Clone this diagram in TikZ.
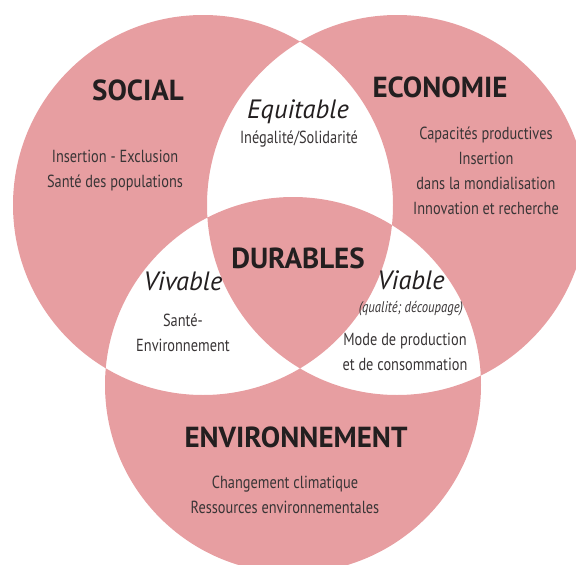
\documentclass[tikz,border=0pt]{standalone}
\usepackage{fontspec}
\setmainfont{PT Sans}
\newfontfamily\narrowfont[FakeStretch=0.82]{PT Sans}
\usetikzlibrary{positioning}

\definecolor{venn}{RGB}{231,158,161}
\definecolor{ink}{RGB}{35,31,32}

\tikzset{
	titre/.style={font=\fontsize{29}{32}\selectfont\bfseries, text=ink},
	qualif/.style={font=\fontsize{26.5}{28}\selectfont\itshape, text=ink},
	detail/.style={font=\narrowfont\fontsize{17.5}{25}\selectfont, text=ink!90, align=center},
}

\begin{document}
\begin{tikzpicture}[x=1pt, y=-1pt]
		\clip (0,0) rectangle (576,565);
		\useasboundingbox (0,0) rectangle (576,565);

		% Circles
		\coordinate (soc) at (203,205);
		\coordinate (eco) at (397,205);
		\coordinate (env) at (293,385);
		\fill[venn, even odd rule]
			(soc) circle[radius=190]
			(eco) circle[radius=190]
			(env) circle[radius=188];

		\begin{scope}[every node/.style={inner sep=0pt}]
			% Social
			\node[titre]  (social)     at (138,90)  {SOCIAL};
			\node[detail] (social_txt) at (115,171) {Insertion - Exclusion\\Santé des populations};

			% Economie
			\node[titre]  (economie)     at (440,87)  {ECONOMIE};
			\node[detail] (economie_txt) at (486,171) {Capacités productives\\Insertion\\dans la mondialisation\\Innovation et recherche};

			% Environnement
			\node[titre]  (environnement)     at (296,437)   {ENVIRONNEMENT};
			\node[detail] (environnement_txt) at (285,494.5) {Changement climatique\\Ressources environnementales};

			% Intersections
			\node[qualif] (equitable)     at (298,112) {Equitable};
			\node[detail] (equitable_txt) at (299,139) {Inégalité/Solidarité};

			\node[qualif] (vivable)     at (183,281)   {Vivable};
			\node[detail] (vivable_txt) at (183,332.5) {Santé-\\Environnement};

			\node[qualif] (viable)     at (411,280) {Viable};
			\node[detail, font=\narrowfont\fontsize{15.5}{18}\selectfont\itshape]
				(viable_note) at (411,309) {(qualité; découpage)};
			\node[detail] (viable_txt) at (405,352) {Mode de production\\et de consommation};

			\node[titre] (durables) at (298,258) {DURABLES};
		\end{scope}
	\end{tikzpicture}
\end{document}
